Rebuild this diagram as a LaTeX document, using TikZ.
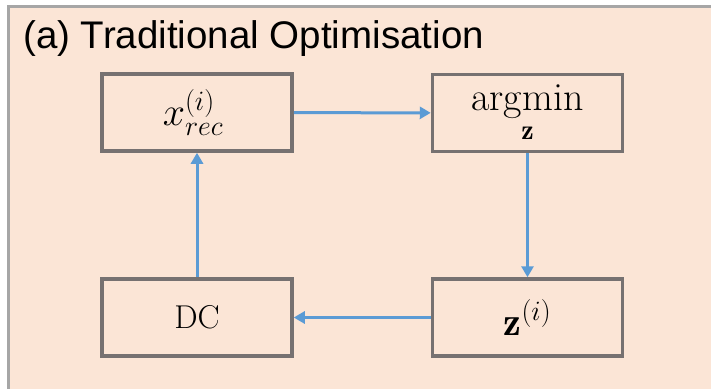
\RequirePackage{fix-cm}
\documentclass[tikz,border=0pt]{standalone}
\usepackage{amsmath}
\usepackage{fontspec}
\newfontfamily\titlefont{Liberation Sans}
\usetikzlibrary{arrows.meta}
\definecolor{panel}{HTML}{FBE5D6}
\definecolor{panelrule}{HTML}{A6A6A6}
\definecolor{boxrule}{HTML}{767171}
\definecolor{flow}{HTML}{5B9BD5}
\begin{document}
\begin{tikzpicture}[x=1pt,y=-1pt,
  stage/.style={draw=boxrule, line width=3.5pt, minimum width=190pt,
    minimum height=77pt, inner sep=0pt, font=\fontsize{40}{44}\selectfont},
  link/.style={flow, line width=3pt, -{Triangle[length=11pt,width=12pt]}}]
\useasboundingbox (0,0) rectangle (711,388);
\clip (0,0) rectangle (711,388);
% panel background with its grey rule
\draw[panelrule, fill=panel, line width=3pt] (8.5,6.5) rectangle (740,420);
\node[anchor=base west, inner sep=0pt, font=\titlefont\fontsize{38.5}{42}\selectfont]
  (title) at (23,48) {(a) Traditional Optimisation};
% the four stages of the loop
\node[stage] (xrec)   at (197,112.5)   {$\kern-8pt x_{rec}^{(i)}$};
\node[stage] (argmin) at (527.5,113)
  {$\underset{\rule{0pt}{17pt}\mathbf{z}}{\mathrm{argmin}}$};
\node[stage] (zi)     at (527.5,317.5) {$\mathbf{z}^{(i)}$};
\node[stage, font=\fontsize{33}{38}\selectfont] (dc) at (197,317.5) {DC};
% connectors
\draw[link] (xrec) -- (argmin);
\draw[link] (argmin) -- (zi);
\draw[link] (zi) -- (dc);
\draw[link] (dc) -- (xrec);
\end{tikzpicture}
\end{document}
